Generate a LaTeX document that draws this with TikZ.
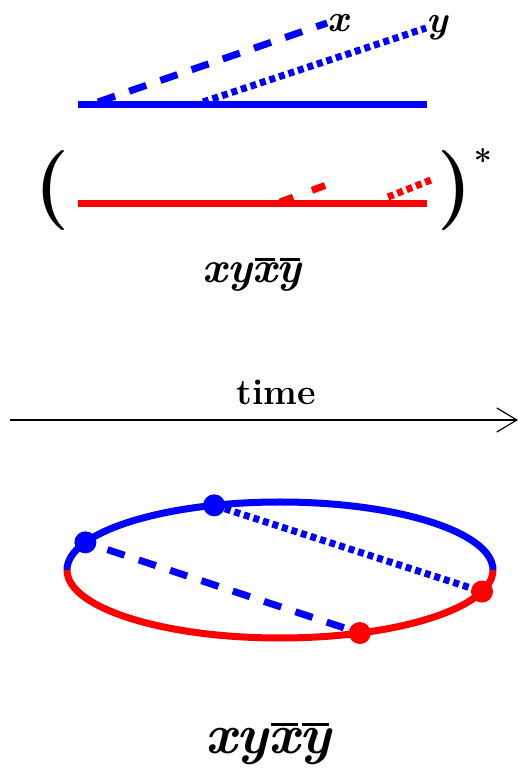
\documentclass[tikz,border=0pt]{standalone}
\usepackage{fontspec}
\usetikzlibrary{arrows.meta,positioning,calc}
\definecolor{wblue}{HTML}{0000FF}
\definecolor{wred}{HTML}{FF0000}
\newcommand{\nbar}[1]{\setbox0=\hbox{#1}\leavevmode\vbox{\offinterlineskip\hbox to \wd0{\hskip 3pt\leaders\hrule height 2.8pt\hfil\hskip 1.5pt}\kern2.4pt\box0}}
\tikzset{
    every node/.style={font=\bfseries\itshape,inner sep=0pt},
    wire/.style={line width=7pt},
    longdash/.style={line width=7pt,dash pattern=on 18pt off 15pt},
    shortdot/.style={line width=7pt,dash pattern=on 6pt off 4pt},
    dot/.style={circle,inner sep=0pt,minimum size=22pt},
    word/.style={font=\bfseries\itshape\fontsize{#1}{#1}\selectfont}
}

\begin{document}
\begin{tikzpicture}[x=1pt,y=1pt]
\useasboundingbox (0,0) rectangle (520,771);
% one period, blue
\coordinate (b0) at (78,666);
\coordinate (b1) at (427,666);
\coordinate (dx) at (98,669);
\coordinate (dy) at (203,669);
\node[word=38] (lx) at (338,748) {x};
\node[word=38] (ly) at (437,743) {y};
\draw[wire,wblue] (b0) -- (b1);
\draw[longdash,wblue] (dx) -- (lx.west);
\draw[shortdot,wblue] (dy) -- (ly.west);
% repeated block, red
\coordinate (r0) at (78,567);
\coordinate (r1) at (427,567);
\draw[wire,wred] (r0) -- (r1);
\coordinate (rx0) at (280,569); \coordinate (rx1) at (332,588);
\coordinate (ry0) at (388,574); \coordinate (ry1) at (431,591);
\draw[longdash,wred,dash pattern=on 14pt off 20pt] (rx0) -- (rx1);
\draw[shortdot,wred] (ry0) -- (ry1);
\node[font=\bfseries\fontsize{80}{80}\selectfont] (lp) at (52,580) {(};
\node[font=\bfseries\fontsize{80}{80}\selectfont] (rp) at (455,580) {)};
\node[font=\bfseries\fontsize{32}{32}\selectfont,right=1pt of rp.north east,yshift=-10pt] (st) {*};
\node[word=44,anchor=base] (w1) at (252,488) {xy\nbar{x}\nbar{y}};
% time axis
\node[font=\bfseries\fontsize{36}{36}\selectfont,anchor=base] (tm) at (276,366) {time};
\coordinate (t0) at (10,351);
\coordinate (t1) at (518,351);
\draw[line width=1.2pt,-{Straight Barb[length=20pt,width=24pt]}] (t0) -- (t1);
% the loop
\coordinate (c) at (280,201);
\draw[wire,wblue] (67,201) arc[start angle=180,end angle=0,x radius=213,y radius=68];
\draw[wire,wred] (67,201) arc[start angle=180,end angle=360,x radius=213,y radius=68];
\foreach \n/\a/\col in {p/156/wblue,q/108/wblue,r/-18.5/wred,s/-68/wred}
    \node[dot,fill=\col] (\n) at ($(c)+({213*cos(\a)},{68*sin(\a)})$) {};
\draw[longdash,wblue,shorten <=12pt] (p) -- (s);
\draw[shortdot,wblue] (q) -- (r);
\node[word=56,anchor=base] (w2) at (268,17) {xy\nbar{x}\nbar{y}};
\end{tikzpicture}
\end{document}
